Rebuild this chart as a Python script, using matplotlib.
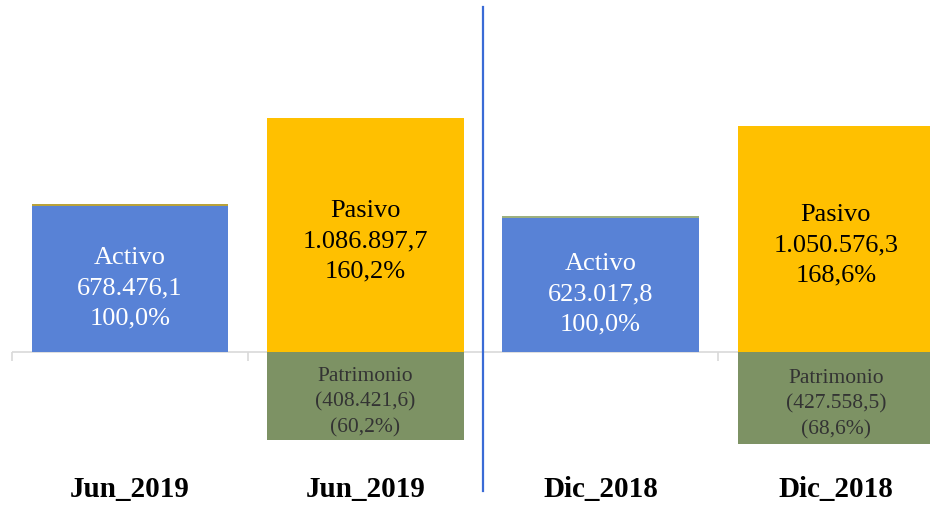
import numpy as np
import matplotlib
matplotlib.use("Agg")
import matplotlib.pyplot as plt

# data
categorias = ["Jun_2019", "Jun_2019", "Dic_2018", "Dic_2018"]
activo = [678476.1, 0, 623017.8, 0]
otros = [7000, 0, 7000, 0]  # thin segment on top of Activo
pasivo = [0, 1086897.7, 0, 1050576.3]
patrimonio = [0, -408421.6, 0, -427558.5]
etiquetas_activo = ["Activo\n678.476,1\n100,0%", "", "Activo\n623.017,8\n100,0%", ""]
etiquetas_pasivo = ["", "Pasivo\n1.086.897,7\n160,2%", "", "Pasivo\n1.050.576,3\n168,6%"]
etiquetas_patr = ["", "Patrimonio\n(408.421,6)\n(60,2%)", "", "Patrimonio\n(427.558,5)\n(68,6%)"]
color_otros = ["#B9A23A", "none", "#9DB07E", "none"]

c_activo = "#5882D6"
c_pasivo = "#FFC000"
c_patr = "#7D9264"

plt.rcParams['font.family'] = ['Liberation Serif', 'DejaVu Serif']

fig = plt.figure(figsize=(9.3, 5.06), dpi=100)
ax = fig.add_axes([0, 0, 1, 1])
x = np.arange(len(categorias))
w = 0.835

ax.bar(x, activo, w, color=c_activo, zorder=2)
ax.bar(x, otros, w, bottom=activo, color=color_otros, zorder=2)
ax.bar(x, pasivo, w, color=c_pasivo, zorder=2)
ax.bar(x, patrimonio, w, color=c_patr, zorder=2)

for i in x:
    if etiquetas_activo[i]:
        ax.text(i, activo[i] / 2 - 38000, etiquetas_activo[i], ha="center", va="center",
                color="white", fontsize=19, linespacing=1.5, zorder=3)
    if etiquetas_pasivo[i]:
        ax.text(i, pasivo[i] / 2 - 24000, etiquetas_pasivo[i], ha="center", va="center",
                color="black", fontsize=19, linespacing=1.5, zorder=3)
    if etiquetas_patr[i]:
        ax.text(i, patrimonio[i] / 2 - 24000, etiquetas_patr[i], ha="center", va="center",
                color="#333333", fontsize=15.5, linespacing=1.45, zorder=3)
    ax.text(i, 0.032, categorias[i], transform=ax.get_xaxis_transform(),
            ha="center", va="center", fontsize=21, fontweight="bold")

# category axis line and separators
ax.hlines(0, -0.5, 3.5, color="#D9D9D9", lw=1.2, zorder=1)
ax.vlines([-0.5, 0.5, 1.5, 2.5], -42000, 0, color="#D9D9D9", lw=1.2, zorder=1)

# divider between periods
ax.axvline(1.5, ymin=(506 - 492) / 506, ymax=(506 - 8) / 506, color="#3A6BD6", lw=1.6, zorder=4)

ax.set_xlim(-0.5525, 3.4)
ax.set_ylim(-710700, 1639700)
ax.axis("off")

fig.savefig("out.png", dpi=100)
